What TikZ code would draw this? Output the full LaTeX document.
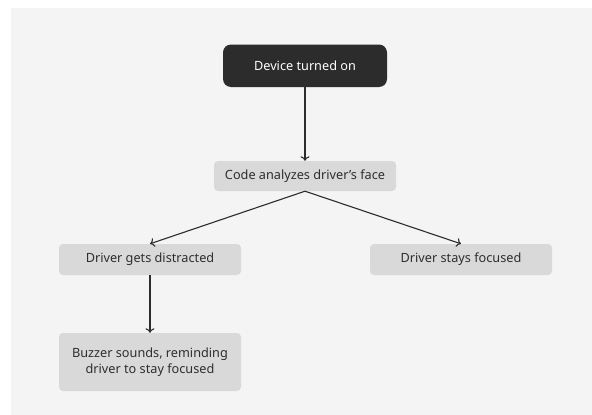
\documentclass[tikz,border=0pt]{standalone}
\usepackage{fontspec}
\setmainfont{Noto Sans}
\usetikzlibrary{arrows.meta}
\definecolor{bg}{HTML}{F4F4F4}
\definecolor{boxgray}{HTML}{D9D9D9}
\definecolor{dark}{HTML}{2C2C2C}
\definecolor{txt}{HTML}{2E2E2E}
\begin{document}
\begin{tikzpicture}[x=1pt,y=-1pt,
  box/.style={fill=boxgray, rounded corners=4pt, text=txt, font=\fontsize{12.7}{15.5}\selectfont, align=center, inner sep=0pt},
  startbox/.style={fill=dark, rounded corners=8pt, text=white, font=\fontsize{12.7}{15.5}\selectfont, inner sep=0pt},
  arr/.style={draw=dark, line width=1.1pt, -{To[length=4.5pt,width=9pt]}}]
\useasboundingbox (0,0) rectangle (592,415);
\fill[bg] (11,8) rectangle (592,415);
\node[startbox, minimum width=164pt, minimum height=42.5pt] (start) at (305,65.75) {Device turned on};
\node[box, minimum width=182pt, minimum height=30pt] (code) at (305,176) {Code analyzes driver’s face};
\node[box, minimum width=182pt, minimum height=31pt] (dist) at (150,259.5) {Driver gets distracted};
\node[box, minimum width=182pt, minimum height=31pt] (foc) at (461,259.5) {Driver stays focused};
\node[box, minimum width=182pt, minimum height=58pt] (buzz) at (150,362) {Buzzer sounds, reminding\\driver to stay focused};
\draw[arr] (start.south) -- (code.north);
\draw[arr] (code.south) -- (dist.north);
\draw[arr] (code.south) -- (foc.north);
\draw[arr] (dist.south) -- (buzz.north);
\end{tikzpicture}
\end{document}
